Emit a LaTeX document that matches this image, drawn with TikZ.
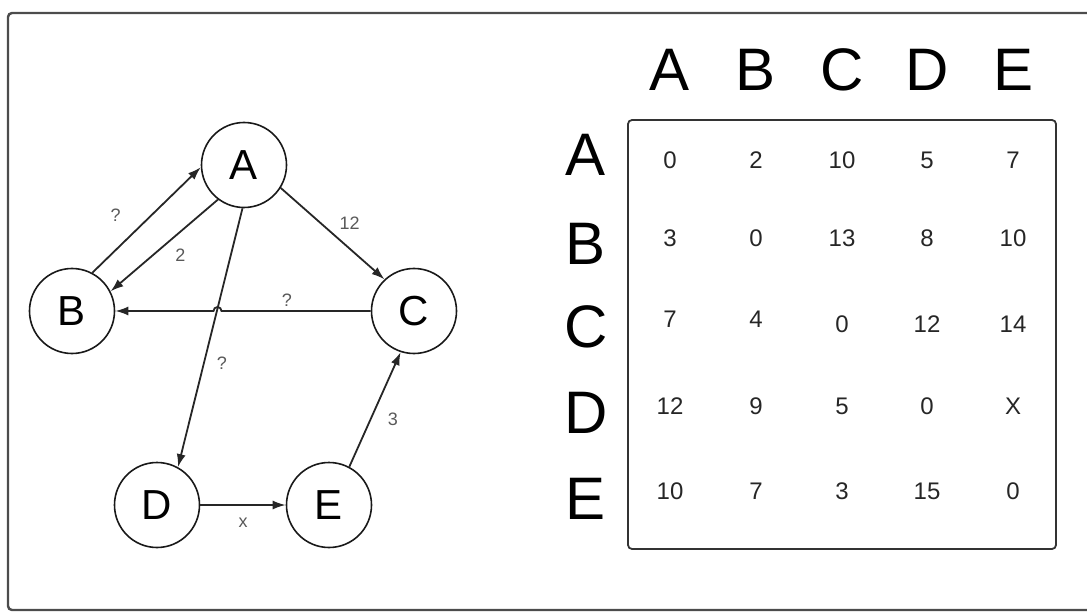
\documentclass[tikz,border=0pt]{standalone}
\usepackage{fontspec}
\setmainfont{Liberation Sans}
\usetikzlibrary{arrows.meta}

\begin{document}
\begin{tikzpicture}[x=1pt,y=-1pt,
    state/.style={circle, draw=black!90, line width=1.6pt, minimum size=85pt,
      inner sep=0pt, font=\fontsize{42}{42}\selectfont},
    edge/.style={draw=black!85, line width=1.8pt, -{Latex[length=13pt,width=9pt]}},
    lbl/.style={text=black!65, font=\fontsize{18}{18}\selectfont},
    head/.style={font=\fontsize{60}{60}\selectfont},
    num/.style={text=black!85, font=\fontsize{24}{24}\selectfont}]
  \useasboundingbox (0,0) rectangle (1087,612);
  \clip (0,0) rectangle (1087,612);

  % Outer frame
  \draw[black!70, line width=2.4pt, rounded corners=4pt] (8,13) rectangle (1100,610);

  % Graph nodes
  \node[state] (A) at (244,165) {A};
  \node[state] (B) at (72,311) {B};
  \node[state] (C) at (414,311) {C};
  \node[state] (D) at (157,505) {D};
  \node[state] (E) at (329,505) {E};

  % Crossing point of A->D and C->B
  \coordinate (hop) at (217.5,311);

  % Edges with their weights
  \draw[edge] (B.62) -- (A.183)
    node[lbl, pos=0.5, xshift=-31pt, yshift=5pt] {?};
  \draw[edge] (A.233) -- (B.27)
    node[lbl, pos=0.5, xshift=16pt, yshift=-10pt] {2};
  \draw[edge] (A.328) -- (C.133)
    node[lbl, pos=0.5, xshift=17pt, yshift=10pt] {12};
  \draw[edge] (C.180) -- ([xshift=4pt]hop) arc[start angle=0, end angle=180, radius=4pt]
    -- (B.0);
  \node[lbl] (cbw) at (287,300) {?};
  \draw[edge] (A.268) -- (D.61)
    node[lbl, pos=0.6, xshift=18pt] {?};
  \draw[edge] (D.0) -- (E.180)
    node[lbl, pos=0.5, yshift=-18pt] {x};
  \draw[edge] (E.62) -- (C.252)
    node[lbl, pos=0.5, xshift=18pt, yshift=-10pt] {3};

  % Distance table
  \draw[black!80, line width=1.8pt, rounded corners=4pt] (628,120) rectangle (1056,549);

  % Column headers
  \node[head] (hA) at (670,70) {A};
  \node[head] (hB) at (756,70) {B};
  \node[head] (hC) at (842,70) {C};
  \node[head] (hD) at (927,70) {D};
  \node[head] (hE) at (1013,70) {E};

  % Row headers
  \node[head] (rA) at (586,155) {A};
  \node[head] (rB) at (586,244) {B};
  \node[head] (rC) at (586,327) {C};
  \node[head] (rD) at (586,413) {D};
  \node[head] (rE) at (586,499) {E};

  % Row A
  \node[num] (aa) at (670,160) {0};
  \node[num] (ab) at (756,160) {2};
  \node[num] (ac) at (842,160) {10};
  \node[num] (ad) at (927,160) {5};
  \node[num] (ae) at (1013,160) {7};

  % Row B
  \node[num] (ba) at (670,238) {3};
  \node[num] (bb) at (756,238) {0};
  \node[num] (bc) at (842,238) {13};
  \node[num] (bd) at (927,238) {8};
  \node[num] (be) at (1013,238) {10};

  % Row C
  \node[num] (ca) at (670,319) {7};
  \node[num] (cb) at (756,319) {4};
  \node[num] (cc) at (842,324) {0};
  \node[num] (cd) at (927,324) {12};
  \node[num] (ce) at (1013,324) {14};

  % Row D
  \node[num] (da) at (670,406) {12};
  \node[num] (db) at (756,406) {9};
  \node[num] (dc) at (842,406) {5};
  \node[num] (dd) at (927,406) {0};
  \node[num] (de) at (1013,406) {X};

  % Row E
  \node[num] (ea) at (670,491) {10};
  \node[num] (eb) at (756,491) {7};
  \node[num] (ec) at (842,491) {3};
  \node[num] (ed) at (927,491) {15};
  \node[num] (ee) at (1013,491) {0};
\end{tikzpicture}
\end{document}
